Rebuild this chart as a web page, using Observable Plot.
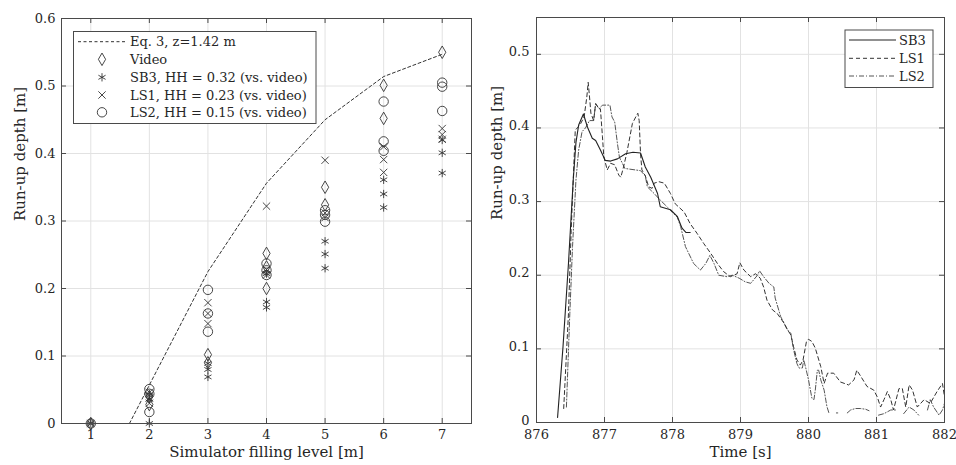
<!DOCTYPE html>
<html><head><meta charset="utf-8">
<script src="https://cdn.jsdelivr.net/npm/d3@7"></script>
<script src="https://cdn.jsdelivr.net/npm/@observablehq/plot@0.6"></script>
<style>
body{margin:0;background:#fff;}
#wrap{display:flex;width:956px;height:465px;overflow:hidden;}
#wrap svg{display:block;flex:none;}
</style></head><body><div id="wrap"></div>
<script>
// ---------- Left panel data ----------
const levelTicks = [1,2,3,4,5,6,7];
const yTicksL = [0,0.1,0.2,0.3,0.4,0.5,0.6];
const eqX = [1.66,2,3,4,5,6,7];
const eqY = [0,0.057,0.225,0.356,0.450,0.514,0.547];
const videoX = [1,2,2,3,3,4,4,4,5,5,6,6,7];
const videoY = [0,0.040,0.028,0.102,0.090,0.252,0.232,0.200,0.350,0.324,0.501,0.452,0.550];
const sb3X = [1,2,2,2,3,3,3,4,4,4,5,5,5,6,6,6,7,7,7];
const sb3Y = [0,0,0.036,0.042,0.089,0.080,0.069,0.222,0.180,0.172,0.270,0.251,0.230,0.361,0.340,0.320,0.420,0.401,0.371];
const ls1X = [1,2,2,2,3,3,3,4,4,4,5,5,5,6,6,6,7,7,7];
const ls1Y = [0,0.046,0.038,0.030,0.179,0.163,0.148,0.322,0.228,0.220,0.390,0.312,0.305,0.410,0.391,0.372,0.437,0.428,0.421];
const ls2X = [1,2,2,2,3,3,3,4,4,4,5,5,5,6,6,6,7,7,7];
const ls2Y = [0,0.051,0.044,0.017,0.198,0.163,0.136,0.237,0.227,0.220,0.316,0.309,0.299,0.477,0.418,0.404,0.505,0.499,0.463];
const leftLegend = ["Eq. 3, z=1.42 m","Video","SB3, HH = 0.32 (vs. video)","LS1, HH = 0.23 (vs. video)","LS2, HH = 0.15 (vs. video)"];

// ---------- Right panel data ----------
const timeTicks = [876,877,878,879,880,881,882];
const yTicksR = [0,0.1,0.2,0.3,0.4,0.5];
const sb3T = [876.31,876.39,876.47,876.54,876.58,876.62,876.69,876.75,876.82,876.87,876.94,877.01,877.09,877.19,877.31,877.42,877.53,877.60,877.68,877.78,877.82,877.97,878.07,878.14,878.20,878.26];
const sb3D = [0.007,0.103,0.216,0.329,0.380,0.404,0.419,0.401,0.386,0.383,0.370,0.356,0.355,0.358,0.365,0.367,0.366,0.347,0.333,0.311,0.293,0.289,0.280,0.264,0.258,0.258];
const ls1T = [876.40,876.47,876.51,876.54,876.57,876.60,876.65,876.70,876.74,876.76,876.78,876.80,876.84,876.87,876.92,876.94,876.97,876.99,877.04,877.09,877.15,877.21,877.24,877.28,877.33,877.41,877.46,877.49,877.51,877.53,877.55,877.60,877.65,877.70,877.73,877.80,877.88,877.97,878.04,878.17,878.26,878.36,878.46,878.56,878.66,878.75,878.85,878.95,878.99,879.05,879.15,879.22,879.29,879.34,879.39,879.47,879.54,879.64,879.69,879.74,879.78,879.83,879.88,879.92,879.97,880.00,880.05,880.10,880.18,880.23,880.28,880.37,880.47,880.59,880.67,880.71,880.76,880.86,880.96,881.01,881.06,881.11,881.16,881.21,881.25,881.33,881.38,881.43,881.48,881.53,881.60,881.70,881.79,881.89,881.97,882.00];
const ls1D = [0.019,0.148,0.261,0.329,0.397,0.400,0.406,0.415,0.442,0.462,0.442,0.420,0.410,0.433,0.426,0.426,0.388,0.361,0.343,0.352,0.350,0.336,0.333,0.347,0.367,0.406,0.415,0.420,0.410,0.365,0.343,0.335,0.320,0.318,0.325,0.327,0.325,0.311,0.297,0.286,0.270,0.257,0.243,0.230,0.216,0.205,0.198,0.202,0.217,0.207,0.198,0.202,0.196,0.184,0.166,0.153,0.148,0.135,0.126,0.119,0.103,0.085,0.078,0.085,0.110,0.113,0.110,0.101,0.076,0.053,0.067,0.067,0.055,0.051,0.058,0.071,0.064,0.049,0.044,0.035,0.021,0.031,0.042,0.031,0.017,0.046,0.046,0.021,0.051,0.044,0.021,0.031,0.026,0.042,0.053,0.035];
const ls2T = [876.44,876.49,876.53,876.58,876.62,876.67,876.72,876.78,876.84,876.87,876.92,876.97,877.08,877.11,877.15,877.19,877.22,877.30,877.53,877.60,877.63,877.73,877.82,877.92,878.00,878.07,878.12,878.19,878.31,878.41,878.49,878.55,878.61,878.68,878.80,878.88,878.98,879.07,879.15,879.25,879.28,879.34,879.42,879.49,879.51,879.59,879.69,879.74,879.78,879.83,879.86,879.91,879.93,879.96,880.00,880.05,880.08,880.10,880.13,880.15,880.18,880.23,880.27,880.30,880.36,880.41,880.43,880.50,880.57,880.62,880.69,880.76,880.84,880.89,880.95,881.03,881.11,881.21,881.28,881.34,881.40,881.48,881.55,881.62,881.69,881.75,881.79,881.84,881.92,881.97,882.00];
const ls2D = [0.021,0.148,0.239,0.329,0.370,0.395,0.400,0.410,0.410,0.433,0.426,0.431,0.431,0.415,0.408,0.379,0.360,0.345,0.342,0.335,0.320,0.311,0.302,0.293,0.285,0.279,0.266,0.239,0.216,0.207,0.216,0.227,0.216,0.200,0.198,0.200,0.196,0.191,0.189,0.200,0.206,0.198,0.189,0.184,0.169,0.144,0.126,0.121,0.099,0.080,0.074,0.074,0.085,0.074,0.058,0.033,0.031,0.044,0.071,0.071,0.058,0.044,0.022,0.013,NaN,0.013,0.013,NaN,0.013,0.017,0.019,0.019,0.018,0.016,NaN,0.010,0.012,0.017,0.017,NaN,0.012,0.021,0.017,0.010,NaN,0.017,0.031,0.021,0.010,0.017,0.026];
const rightLegend = ["SB3","LS1","LS2"];

// ---------- Styling ----------
const FONT = "DejaVu Serif";
const INK = "#333";
const GRID = "#e2e2e2";
const FRAME = "#4a4a4a";
const fmt = d => String(+d.toFixed(1));
const rows = (xs, ys) => xs.map((x, i) => ({x, y: ys[i]}));
const DASH_EQ = "3,2.5";
const DASH_LS1 = "4,3";
const DASH_LS2 = "5,2,1,2";
const sym = {diamond: 3.8, asterisk: 3.9, times: 3.4, circle: 4.7};

function frameMarks(xt, yt, pw, ph) {
  return [
    Plot.gridX(xt, {stroke: GRID, strokeOpacity: 1}),
    Plot.gridY(yt, {stroke: GRID, strokeOpacity: 1}),
    Plot.tickX(xt, {x: d => d, insetTop: ph - 5, stroke: FRAME}),
    Plot.tickX(xt, {x: d => d, insetBottom: ph - 5, stroke: FRAME}),
    Plot.tickY(yt, {y: d => d, insetRight: pw - 5, stroke: FRAME}),
    Plot.tickY(yt, {y: d => d, insetLeft: pw - 5, stroke: FRAME})
  ];
}

// ---------- Left panel ----------
const W1 = 490, H = 465, mL1 = 61, mR1 = 19, mT1 = 18, mB1 = 42;
const pw1 = W1 - mL1 - mR1, ph1 = H - mT1 - mB1;
const left = Plot.plot({
  width: W1, height: H, marginLeft: mL1, marginRight: mR1, marginTop: mT1, marginBottom: mB1,
  style: {fontFamily: FONT, fontSize: "13px", color: "#262626", background: "white", overflow: "visible"},
  x: {domain: [0.5, 7.5]},
  y: {domain: [0, 0.6]},
  marks: [
    ...frameMarks(levelTicks, yTicksL, pw1, ph1),
    Plot.axisX(levelTicks, {tickSize: 0, tickPadding: 6, tickFormat: d => String(d), label: null, fontSize: 13}),
    Plot.axisY(yTicksL, {tickSize: 0, tickPadding: 6, tickFormat: fmt, label: null, fontSize: 13}),
    Plot.line(rows(eqX, eqY), {x: "x", y: "y", stroke: INK, strokeWidth: 1, strokeDasharray: DASH_EQ}),
    Plot.dot(rows(videoX, videoY), {x: "x", y: "y", symbol: "diamond", r: sym.diamond, stroke: INK, fill: "none", strokeWidth: 0.9}),
    Plot.dot(rows(sb3X, sb3Y), {x: "x", y: "y", symbol: "asterisk", r: sym.asterisk, stroke: INK, fill: "none", strokeWidth: 0.9}),
    Plot.dot(rows(ls1X, ls1Y), {x: "x", y: "y", symbol: "times", r: sym.times, stroke: INK, fill: "none", strokeWidth: 0.9}),
    Plot.dot(rows(ls2X, ls2Y), {x: "x", y: "y", symbol: "circle", r: sym.circle, stroke: INK, fill: "none", strokeWidth: 0.9}),
    Plot.frame({stroke: FRAME}),
    Plot.text(["Simulator filling level [m]"], {frameAnchor: "bottom", dy: 33, text: d => d, fontSize: 15, fill: "#262626"}),
    Plot.text(["Run-up depth [m]"], {frameAnchor: "left", dx: -41, rotate: -90, text: d => d, fontSize: 15, fill: "#262626"})
  ]
});

// ---------- Right panel ----------
const W2 = 466, mL2 = 46, mR2 = 12, mT2 = 17, mB2 = 43;
const pw2 = W2 - mL2 - mR2, ph2 = H - mT2 - mB2;
const right = Plot.plot({
  width: W2, height: H, marginLeft: mL2, marginRight: mR2, marginTop: mT2, marginBottom: mB2,
  style: {fontFamily: FONT, fontSize: "13px", color: "#262626", background: "white", overflow: "visible"},
  x: {domain: [876, 882]},
  y: {domain: [0, 0.55]},
  marks: [
    ...frameMarks(timeTicks, yTicksR, pw2, ph2),
    Plot.axisX(timeTicks, {tickSize: 0, tickPadding: 7, tickFormat: d => String(d), label: null, fontSize: 13}),
    Plot.axisY(yTicksR, {tickSize: 0, tickPadding: 7, dy: -2, tickFormat: fmt, label: null, fontSize: 13}),
    Plot.line(rows(ls2T, ls2D), {x: "x", y: "y", stroke: "#555", strokeWidth: 1, strokeDasharray: DASH_LS2}),
    Plot.line(rows(ls1T, ls1D), {x: "x", y: "y", stroke: INK, strokeWidth: 1, strokeDasharray: DASH_LS1}),
    Plot.line(rows(sb3T, sb3D), {x: "x", y: "y", stroke: "#222", strokeWidth: 1.1}),
    Plot.frame({stroke: FRAME}),
    Plot.text(["Time [s]"], {frameAnchor: "bottom", dy: 34, text: d => d, fontSize: 15, fill: "#262626"}),
    Plot.text(["Run-up depth [m]"], {frameAnchor: "left", dx: -39, rotate: -90, text: d => d, fontSize: 15, fill: "#262626"})
  ]
});

// ---------- Legends ----------
function symPath(name, r) {
  const t = {diamond: d3.symbolDiamond, asterisk: d3.symbolAsterisk, times: d3.symbolTimes, circle: d3.symbolCircle}[name];
  return d3.symbol().type(t).size(Math.PI * r * r)();
}
{
  const g = d3.select(left).append("g").attr("font-family", FONT).attr("font-size", 13).attr("text-anchor", "start");
  g.append("rect").attr("x", 73.5).attr("y", 31.5).attr("width", 242.5).attr("height", 92)
    .attr("fill", "white").attr("stroke", FRAME);
  const ys = [41.7, 59.3, 77.3, 95, 112.3];
  const syms = [null, "diamond", "asterisk", "times", "circle"];
  leftLegend.forEach((label, i) => {
    if (i === 0) {
      g.append("line").attr("x1", 78).attr("x2", 125).attr("y1", ys[i]).attr("y2", ys[i])
        .attr("stroke", INK).attr("stroke-dasharray", DASH_EQ);
    } else {
      g.append("path").attr("d", symPath(syms[i], sym[syms[i]])).attr("transform", `translate(102,${ys[i]})`)
        .attr("fill", "none").attr("stroke", INK).attr("stroke-width", 0.9);
    }
    g.append("text").attr("x", 130).attr("y", ys[i]).attr("dy", "0.35em").attr("text-anchor", "start")
      .attr("fill", "#262626").text(label);
  });
}
{
  const g = d3.select(right).append("g").attr("font-family", FONT).attr("font-size", 13).attr("text-anchor", "start");
  g.append("rect").attr("x", 845 - 490).attr("y", 30).attr("width", 88).attr("height", 57.5)
    .attr("fill", "white").attr("stroke", FRAME);
  const ys = [40, 58.3, 76];
  const styles = [[null, "#222", 1.1], [DASH_LS1, INK, 1], [DASH_LS2, "#555", 1]];
  rightLegend.forEach((label, i) => {
    const l = g.append("line").attr("x1", 849 - 490).attr("x2", 896 - 490).attr("y1", ys[i]).attr("y2", ys[i])
      .attr("stroke", styles[i][1]).attr("stroke-width", styles[i][2]);
    if (styles[i][0]) l.attr("stroke-dasharray", styles[i][0]);
    g.append("text").attr("x", 899 - 490).attr("y", ys[i]).attr("dy", "0.35em").attr("text-anchor", "start")
      .attr("fill", "#262626").text(label);
  });
}

document.getElementById("wrap").append(left, right);
</script></body></html>
